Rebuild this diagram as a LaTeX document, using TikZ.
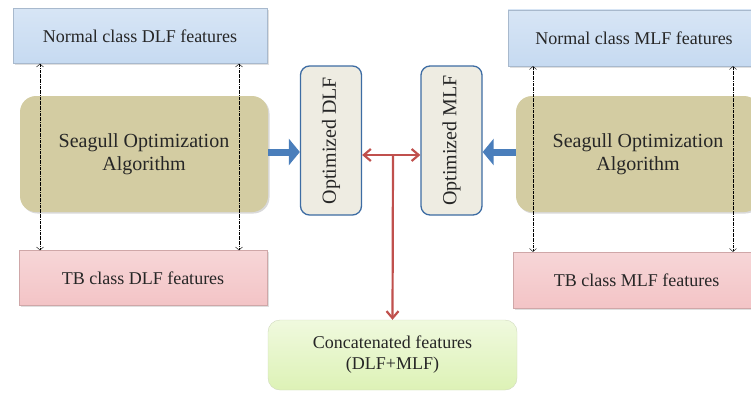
\documentclass[tikz,border=0pt]{standalone}
\usepackage{fontspec}
\setmainfont{Liberation Serif}
\usetikzlibrary{arrows.meta,positioning,calc,shadows}
\definecolor{nblue}{HTML}{C6DAF1}
\definecolor{sgold}{HTML}{D3CCA2}
\definecolor{tpink}{HTML}{F3C4C6}
\definecolor{obeige}{HTML}{EEECE2}
\definecolor{oblue}{HTML}{3D6CA3}
\definecolor{cgreen}{HTML}{DDF2B6}
\definecolor{arblue}{HTML}{4A7EBB}
\definecolor{arred}{HTML}{C0504D}
\definecolor{txt}{HTML}{262626}
\tikzset{
  featbox/.style={rectangle, draw=#1!85!black, top color=#1!70, bottom color=#1, minimum height=55pt, inner sep=2pt, text=txt, font=\fontsize{18}{21}\selectfont, drop shadow={opacity=0.25, shadow xshift=1.5pt, shadow yshift=-1.5pt}},
  algobox/.style={rectangle, rounded corners=16pt, fill=sgold, minimum width=248pt, minimum height=116pt, align=center, text=txt, font=\fontsize{20}{23}\selectfont, drop shadow={opacity=0.3, shadow xshift=1.5pt, shadow yshift=-1.5pt}},
  optbox/.style={rectangle, rounded corners=9pt, draw=oblue, line width=1.3pt, fill=obeige, minimum width=61pt, minimum height=149pt, text=txt, font=\fontsize{20}{24}\selectfont},
  concbox/.style={rectangle, rounded corners=12pt, draw=cgreen!80!black!60, top color=cgreen!45, bottom color=cgreen, minimum width=249pt, minimum height=70pt, align=center, text=txt, font=\fontsize{18}{21}\selectfont},
  fatarrow/.style={line width=7pt, arblue, -{Triangle[length=11pt, width=26pt]}},
  redarrow/.style={line width=2.2pt, arred, -{Straight Barb[length=7pt, width=12pt]}},
  dasharrow/.style={densely dashdotted, thin, {Straight Barb[length=3pt, width=7pt]}-{Straight Barb[length=3pt, width=7pt]}}
}
\begin{document}
\begin{tikzpicture}[x=1pt, y=1pt]
  \useasboundingbox (0,0) rectangle (751,392);
  % left column
  \node[featbox=nblue, minimum width=254pt] (ndlf) at (140,356) {Normal class DLF features};
  \node[algobox] (sdlf) at (144,238) {Seagull Optimization\\Algorithm};
  \node[featbox=tpink, minimum width=248pt] (tdlf) at (143,114) {TB class DLF features};
  % right column
  \node[featbox=nblue, minimum width=252pt, minimum height=56pt] (nmlf) at (634,354) {Normal class MLF features};
  \node[algobox, minimum width=244pt] (smlf) at (638,238) {Seagull Optimization\\Algorithm};
  \node[featbox=tpink, minimum width=247pt, minimum height=56pt] (tmlf) at (636.5,112) {TB class MLF features};
  % optimized features
  \node[optbox] (odlf) at (331,251.5) {\rotatebox{90}{Optimized DLF}};
  \node[optbox] (omlf) at (451.5,251.5) {\rotatebox{90}{Optimized MLF}};
  \node[concbox] (conc) at (392.5,37) {Concatenated features\\(DLF+MLF)};
  % dashed links
  \foreach \px in {40,239} {
    \draw[dasharrow] (ndlf.south -| \px,0) -- (tdlf.north -| \px,0);
  }
  \foreach \px in {533,733} {
    \draw[dasharrow] (nmlf.south -| \px,0) -- (tmlf.north -| \px,0);
  }
  % optimization outputs
  \draw[fatarrow] (sdlf.east |- 0,240) -- (odlf.west |- 0,240);
  \draw[fatarrow] (smlf.west |- 0,240) -- (omlf.east |- 0,240);
  % concatenation
  \coordinate (join) at (393,237);
  \draw[redarrow] (join) -- (join -| odlf.east);
  \draw[redarrow] (join) -- (join -| omlf.west);
  \draw[redarrow] (join) -- (conc.north);
\end{tikzpicture}
\end{document}
